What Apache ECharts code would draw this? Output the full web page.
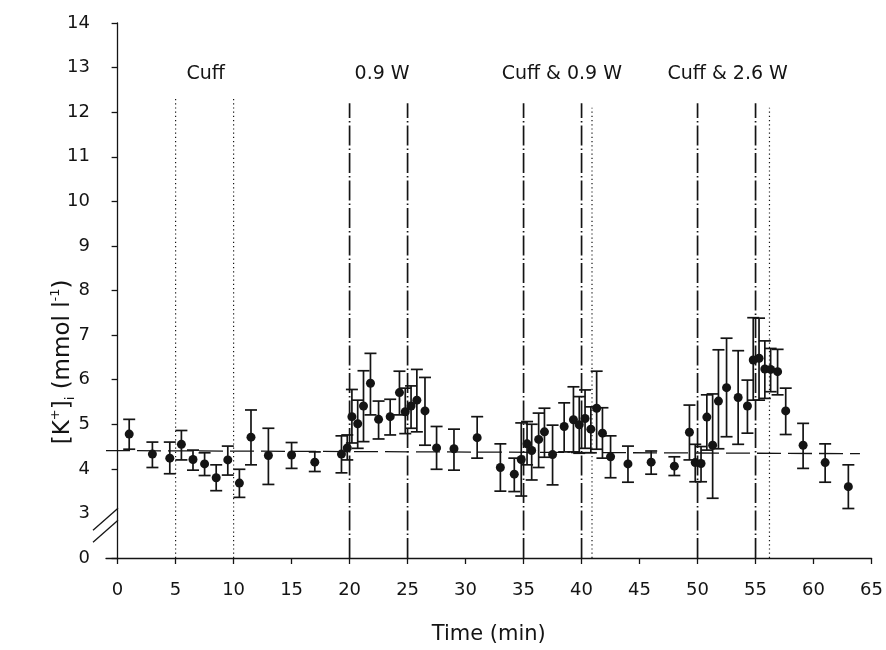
<!DOCTYPE html>
<html><head><meta charset="utf-8">
<script src="https://cdn.jsdelivr.net/npm/echarts@6/dist/echarts.min.js"></script>
<style>html,body{margin:0;padding:0;background:#fff}#c{width:886px;height:650px}</style>
</head><body><div id="c"></div>
<script>
// ---- data ----
const times = [1.0,3.0,4.5,5.5,6.5,7.5,8.5,9.5,10.5,11.5,13.0,15.0,17.0,
  19.3,19.8,20.2,20.7,21.2,21.8,22.5,23.5,24.3,24.8,25.3,25.8,26.5,27.5,29.0,31.0,
  33.0,34.2,34.8,35.3,35.7,36.3,36.8,37.5,38.5,39.3,39.8,40.3,40.8,41.3,41.8,42.5,44.0,
  46.0,48.0,49.3,49.8,50.3,50.8,51.3,51.8,52.5,53.5,54.3,54.8,55.3,55.8,56.3,56.9,57.6,59.1,61.0,63.0];
const means = [4.78,4.33,4.24,4.55,4.21,4.11,3.80,4.20,3.68,4.71,4.30,4.31,4.15,
  4.33,4.47,5.17,5.01,5.41,5.92,5.11,5.17,5.71,5.28,5.41,5.54,5.30,4.47,4.45,4.70,
  4.03,3.88,4.21,4.56,4.41,4.66,4.83,4.32,4.95,5.10,4.99,5.13,4.89,5.36,4.80,4.27,4.11,
  4.15,4.06,4.82,4.14,4.12,5.16,4.53,5.52,5.82,5.60,5.41,6.44,6.48,6.24,6.23,6.18,5.30,4.53,4.14,3.60];
const upper = [5.11,4.60,4.60,4.86,4.42,4.36,4.09,4.51,3.99,5.32,4.91,4.59,4.38,
  4.74,4.76,5.78,5.54,6.20,6.59,5.52,5.56,6.19,5.81,5.86,6.23,6.05,4.95,4.89,5.17,
  4.56,4.24,5.03,5.06,5.00,5.25,5.36,4.98,5.48,5.84,5.62,5.77,5.39,6.19,5.37,4.74,4.51,
  4.40,4.27,5.43,4.55,4.50,5.66,5.68,6.67,6.93,6.65,5.99,7.39,7.38,6.87,6.70,6.68,5.81,5.02,4.56,4.09];
const lower = [4.44,4.03,3.89,4.20,3.97,3.85,3.51,3.86,3.36,4.09,3.65,4.01,3.94,
  3.91,4.20,4.58,4.46,4.61,5.21,4.67,4.76,5.21,4.79,4.91,4.83,4.53,3.99,3.97,4.24,
  3.50,3.49,3.39,4.09,3.75,4.03,4.26,3.64,4.38,4.38,4.35,4.46,4.36,4.44,4.24,3.80,3.70,
  3.88,3.85,4.20,3.71,3.71,4.42,3.34,4.45,4.72,4.55,4.80,5.54,5.54,5.58,5.73,5.66,4.77,4.01,3.70,3.11];
const baselineX = [-1, 64];
const baselineY = [4.41, 4.34];
const dotLines = [5, 10, 40.9, 56.2];
const dotLineTops = [12.3, 12.3, 12.1, 12.1];
const dashDotLines = [20, 25, 35, 40, 50, 55];
const dashDotTop = 12.2;
const phaseNames = ['Cuff', '0.9 W', 'Cuff & 0.9 W', 'Cuff & 2.6 W'];
const phaseX = [7.6, 22.8, 38.3, 52.6];
const phaseY = 12.86;
const xTicks = [0,5,10,15,20,25,30,35,40,45,50,55,60,65];
const yTickValues = [0,3,4,5,6,7,8,9,10,11,12,13,14];
const yTickMarks = [0,4,5,6,7,8,9,10,11,12,13,14];

// broken axis: 0..3 compressed into one unit
function toD(v){ return v >= 3 ? v - 2 : v / 3; }
function fromD(d){ return d >= 1 ? d + 2 : Math.round(d * 3); }

const FONT = 'DejaVu Sans';
const INK = '#141414';

const chart = echarts.init(document.getElementById('c'), null, {renderer:'canvas'});

const series = [];
// baseline (long dash)
series.push({type:'line', data: baselineX.map((x,i)=>[x, toD(baselineY[i])]), symbol:'none', silent:true,
  lineStyle:{color:INK, width:1.3, type:[24,7]}, z:1});
dotLines.forEach((x,i)=>series.push({type:'line', data:[[x,0],[x,toD(dotLineTops[i])]], symbol:'none', silent:true,
  lineStyle:{color:INK, width:1.2, type:[1.2,3]}, z:1}));
dashDotLines.forEach(x=>series.push({type:'line', data:[[x,0],[x,toD(dashDotTop)]], symbol:'none', silent:true,
  lineStyle:{color:INK, width:1.7, type:[20,3,1.5,3]}, z:1}));
// error bars
series.push({type:'custom', z:3, data: times.map((t,i)=>[t, toD(lower[i]), toD(upper[i])]),
  renderItem:function(params, api){
    const x = api.value(0);
    const pHi = api.coord([x, api.value(2)]), pLo = api.coord([x, api.value(1)]);
    const w = 6;
    const st = {stroke:INK, lineWidth:1.7};
    return {type:'group', children:[
      {type:'line', shape:{x1:pHi[0], y1:pHi[1], x2:pLo[0], y2:pLo[1]}, style:st},
      {type:'line', shape:{x1:pHi[0]-w, y1:pHi[1], x2:pHi[0]+w, y2:pHi[1]}, style:st},
      {type:'line', shape:{x1:pLo[0]-w, y1:pLo[1], x2:pLo[0]+w, y2:pLo[1]}, style:st}
    ]};
  }});
// means
series.push({type:'scatter', z:4, data: times.map((t,i)=>[t, toD(means[i])]), symbol:'circle', symbolSize:9,
  itemStyle:{color:INK, opacity:1}});
// phase labels
series.push({type:'scatter', z:5, data: phaseX.map((x,i)=>({value:[x, toD(phaseY)], name:phaseNames[i]})), symbolSize:0,
  itemStyle:{opacity:1},
  label:{show:true, position:'inside', formatter:p=>p.name, color:INK, opacity:1, fontFamily:FONT, fontSize:19}});

chart.setOption({
  animation:false,
  backgroundColor:'#fff',
  grid:{left:106, right:12, top:23, bottom:92, containLabel:false},
  xAxis:{type:'value', min:-1, max:65,
    axisLine:{lineStyle:{color:INK, width:1.3}},
    axisTick:{show:true, length:6, customValues:xTicks, lineStyle:{color:INK, width:1.3}},
    axisLabel:{customValues:xTicks, color:INK, fontFamily:FONT, fontSize:18, margin:23},
    splitLine:{show:false},
    name:'Time (min)', nameLocation:'middle', nameGap:66,
    nameTextStyle:{color:INK, fontFamily:FONT, fontSize:21}
  },
  yAxis:{type:'value', min:0, max:12,
    axisLine:{show:true, lineStyle:{color:INK, width:1.3}},
    axisTick:{show:true, length:6, customValues:yTickMarks.map(toD), lineStyle:{color:INK, width:1.3}},
    axisLabel:{customValues:yTickValues.map(toD), formatter:v=>String(fromD(v)), color:INK, fontFamily:FONT, fontSize:18, margin:16},
    splitLine:{show:false}
  },
  series:series
});

// axis break marks and y-axis title
const p1 = chart.convertToPixel({gridIndex:0}, [-1, 0.87]);
const p2 = chart.convertToPixel({gridIndex:0}, [-1, 0.6]);
const ax = p1[0];
const brk = [p1, p2].map(p=>({type:'line', shape:{x1:ax-13, y1:p[1]+11, x2:ax+12, y2:p[1]-11},
  style:{stroke:INK, lineWidth:1.3}, z:10}));
const tp = chart.convertToPixel({gridIndex:0}, [-1, toD(6.4)]);
chart.setOption({graphic:[...brk, {
  type:'text', x:ax-43, y:tp[1], rotation:Math.PI/2, z:10,
  style:{text:'{a|[K}{s|+}{a|]}{b|i}{a| (mmol l}{s|-1}{a|)}', align:'center', verticalAlign:'middle',
    rich:{a:{fontFamily:FONT, fontSize:23, lineHeight:28, fill:INK, verticalAlign:'middle'},
          s:{fontFamily:FONT, fontSize:13, lineHeight:13, fill:INK, verticalAlign:'top'},
          b:{fontFamily:FONT, fontSize:13, lineHeight:13, fill:INK, verticalAlign:'bottom'}}}
}]});
</script>
</body></html>
